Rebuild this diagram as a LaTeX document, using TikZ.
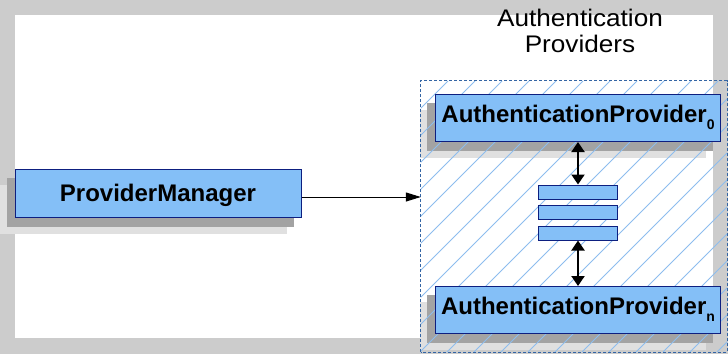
\documentclass[tikz,border=0pt]{standalone}
\usepackage{fontspec}
\setmainfont{Liberation Sans}
\usetikzlibrary{arrows.meta,calc}
\definecolor{bggray}{HTML}{CCCCCC}
\definecolor{boxfill}{HTML}{84BFF7}
\definecolor{navy}{HTML}{0D1F80}
\definecolor{dashblue}{HTML}{3465A4}
\definecolor{hatchblue}{HTML}{8DBDEE}
\definecolor{shdark}{HTML}{A3A3A3}
\definecolor{shlight}{HTML}{E0E0E0}
\pgfdeclarelayer{bglayer}
\pgfdeclarelayer{shadlayer}
\pgfdeclarelayer{hatchlayer}
\pgfsetlayers{bglayer,shadlayer,hatchlayer,main}
\tikzset{
  bigbox/.style={draw=navy, fill=boxfill, line width=1pt, inner sep=0pt,
    minimum width=285pt, minimum height=47pt,
    font=\bfseries\fontsize{24}{24}\selectfont, text height=17pt, text depth=8pt},
  pmbox/.style={draw=navy, fill=boxfill, line width=1pt, inner sep=0pt,
    minimum width=286pt, minimum height=48pt,
    font=\bfseries\fontsize{24}{24}\selectfont, text height=17pt, text depth=0pt},
  minibox/.style={draw=navy, fill=boxfill, line width=1pt, inner sep=0pt,
    minimum width=79pt, minimum height=14pt},
  hatchline/.style={draw=hatchblue, line width=0.8pt},
  dblarrow/.style={{Triangle[length=10pt,width=13pt]}-{Triangle[length=10pt,width=13pt]}, line width=2pt, black},
  onearrow/.style={-{Triangle[length=15pt,width=9pt]}, line width=1pt, black},
  titletext/.style={font=\fontsize{24}{26}\selectfont, align=center, inner sep=0pt}
}
\newcommand{\subnum}[1]{\raisebox{-7pt}{\fontsize{14}{14}\selectfont #1}}
\newcommand{\widetxt}[1]{\scalebox{1.09}[1]{#1}}
\begin{document}
\begin{tikzpicture}[x=1pt,y=-1pt]
\useasboundingbox (0,0) rectangle (728,354);
\begin{pgfonlayer}{bglayer}
  \fill[bggray] (0,0) rectangle (728,354);
  \fill[white] (15,15) rectangle (713,338);
\end{pgfonlayer}

\node[titletext] (title) at (580,31) {\widetxt{Authentication}\\\widetxt{Providers}};

\node[pmbox] (pm) at (158,193) {ProviderManager};
\node[bigbox] (ap0) at (578,118) {AuthenticationProvider\subnum{0}};
\node[bigbox] (apn) at (578,310) {AuthenticationProvider\subnum{n}};
\node[minibox] (s1) at (577.5,192) {};
\node[minibox] (s2) at (577.5,212) {};
\node[minibox] (s3) at (577.5,233) {};

\begin{pgfonlayer}{shadlayer}
  \foreach \n in {pm,ap0,apn}{
    \fill[shlight] ([shift={(-15,16)}]\n.south west) rectangle ([shift={(-15,16)}]\n.north east);
    \fill[shdark] ([shift={(-8,9)}]\n.south west) rectangle ([shift={(-8,9)}]\n.north east);
  }
\end{pgfonlayer}

\begin{pgfonlayer}{hatchlayer}
  \node[inner sep=0pt, minimum width=306pt, minimum height=271pt] (cont) at (574,216.5) {};
  \begin{scope}
    \clip (cont.south west) rectangle (cont.north east);
    \foreach \k in {-5,...,18}{
      \pgfmathsetmacro\c{610+27*\k}
      \draw[hatchline] (\c-352,352) -- (\c-81,81);
    }
  \end{scope}
  \draw[dashblue, line width=1.2pt, dash pattern=on 3pt off 2pt] (cont.south west) rectangle (cont.north east);
\end{pgfonlayer}

\coordinate (pa) at ([yshift=-4pt]pm.east);
\draw[onearrow] (pa) -- (pa -| cont.west);
\draw[dblarrow] (ap0.south) -- (ap0.south |- s1.north);
\draw[dblarrow] (apn.north |- s3.south) -- (apn.north);
\end{tikzpicture}
\end{document}
